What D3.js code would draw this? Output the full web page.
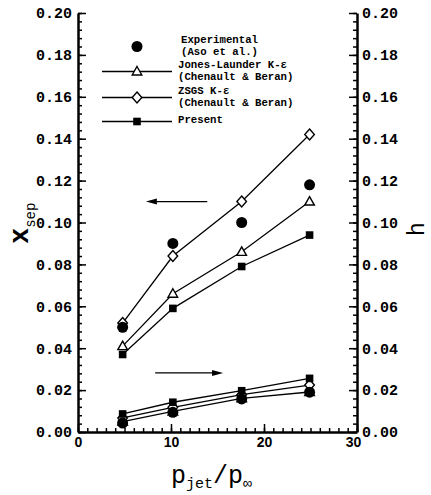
<!DOCTYPE html>
<html>
<head>
<meta charset="utf-8">
<script src="https://cdn.jsdelivr.net/npm/d3@7"></script>
<style>
  body { margin: 0; background: #fff; }
  text { fill: #000; }
</style>
</head>
<body>
<div id="chart"></div>
<script>
// pressure ratio of the four cases
const pjet = [4.8, 10.2, 17.6, 24.9];

// separation distance (left axis)
const xsepExp = [0.050, 0.090, 0.100, 0.118];
const xsepJL = [0.041, 0.066, 0.086, 0.110];
const xsepZSGS = [0.052, 0.084, 0.110, 0.142];
const xsepPresent = [0.037, 0.059, 0.079, 0.094];

// h (right axis)
const hExp = [0.0043, 0.0094, 0.0158, 0.0190];
const hJL = [0.0050, 0.0098, 0.0161, 0.0191];
const hZSGS = [0.0067, 0.0118, 0.0178, 0.0224];
const hPresent = [0.0086, 0.0142, 0.0197, 0.0256];

const xTicks = [0, 10, 20, 30];
const yTicks = d3.range(0, 0.2001, 0.02);

const legendItems = [
  { marker: "circle", line: false, text: ["Experimental", "(Aso et al.)"] },
  { marker: "triangle", line: true, text: ["Jones-Launder K-\u03b5", "(Chenault & Beran)"] },
  { marker: "diamond", line: true, text: ["ZSGS K-\u03b5", "(Chenault & Beran)"] },
  { marker: "square", line: true, text: ["Present"] }
];

const w = 431;
const h = 495;
const margin = { top: 13, bottom: 63, left: 78, right: 74 };
const mono = "'Liberation Mono', 'Courier New', monospace";

const svg = d3.select("#chart")
  .append("svg")
  .attr("width", w)
  .attr("height", h)
  .attr("viewBox", [0, 0, w, h]);

const x = d3.scaleLinear()
  .domain([0, 30])
  .range([margin.left, w - margin.right]);

const y = d3.scaleLinear()
  .domain([0, 0.2])
  .range([h - margin.bottom, margin.top]);

function marker(g, type, cx, cy) {
  if (type == "circle") {
    g.append("circle").attr("cx", cx).attr("cy", cy).attr("r", 5.5).attr("fill", "#000");
  } else if (type == "square") {
    g.append("rect").attr("x", cx - 3.8).attr("y", cy - 3.8).attr("width", 7.6).attr("height", 7.6).attr("fill", "#000");
  } else if (type == "triangle") {
    g.append("path")
      .attr("d", `M${cx},${cy - 5} L${cx + 4.8},${cy + 3.5} L${cx - 4.8},${cy + 3.5} Z`)
      .attr("fill", "#fff").attr("stroke", "#000").attr("stroke-width", 1.4);
  } else if (type == "diamond") {
    g.append("path")
      .attr("d", `M${cx},${cy - 5.5} L${cx + 4.8},${cy} L${cx},${cy + 5.5} L${cx - 4.8},${cy} Z`)
      .attr("fill", "#fff").attr("stroke", "#000").attr("stroke-width", 1.4);
  }
}

//series
const series = [
  { vals: xsepJL, type: "triangle", line: true },
  { vals: xsepZSGS, type: "diamond", line: true },
  { vals: xsepPresent, type: "square", line: true },
  { vals: xsepExp, type: "circle", line: false },
  { vals: hJL, type: "triangle", line: true },
  { vals: hZSGS, type: "diamond", line: true },
  { vals: hPresent, type: "square", line: true },
  { vals: hExp, type: "circle", line: false }
];

const line = d3.line()
  .x((d, i) => x(pjet[i]))
  .y(d => y(d));

const plot = svg.append("g");

series.filter(s => s.line).forEach(s => {
  plot.append("path")
    .attr("d", line(s.vals))
    .attr("fill", "none")
    .attr("stroke", "#000")
    .attr("stroke-width", 1.3);
});

series.forEach(s => {
  s.vals.forEach((v, i) => marker(plot, s.type, x(pjet[i]), y(v)));
});

// arrows pointing to the axis each group belongs to
function arrow(x1, x2, yy) {
  const g = svg.append("g");
  const dir = Math.sign(x2 - x1);
  g.append("line")
    .attr("x1", x(x1)).attr("x2", x(x2) - dir * 9)
    .attr("y1", y(yy)).attr("y2", y(yy))
    .attr("stroke", "#000").attr("stroke-width", 1.3);
  g.append("path")
    .attr("d", `M${x(x2)},${y(yy)} L${x(x2) - dir * 11},${y(yy) - 3} L${x(x2) - dir * 11},${y(yy) + 3} Z`)
    .attr("fill", "#000");
}
arrow(13.9, 7.3, 0.11);
arrow(8.3, 15.6, 0.0282);

//axes

function minorLeft(g) {
  g.attr("transform", `translate(${margin.left}, 0)`)
    .call(d3.axisLeft(y).tickValues(d3.range(0, 0.2001, 0.004)).tickSize(-4).tickFormat(""))
    .call(g => g.select(".domain").remove())
    .selectAll("line").attr("stroke-width", 1.3);
}

function minorRight(g) {
  g.attr("transform", `translate(${w - margin.right}, 0)`)
    .call(d3.axisRight(y).tickValues(d3.range(0, 0.2001, 0.004)).tickSize(-4).tickFormat(""))
    .call(g => g.select(".domain").remove())
    .selectAll("line").attr("stroke-width", 1.3);
}

function minorBottom(g) {
  g.attr("transform", `translate(0, ${h - margin.bottom})`)
    .call(d3.axisBottom(x).tickValues(d3.range(0, 31, 1)).tickSize(-4).tickFormat(""))
    .call(g => g.select(".domain").remove())
    .selectAll("line").attr("stroke-width", 1.3);
}

function yAxis(g) {
  g.attr("transform", `translate(${margin.left}, 0)`)
    .call(d3.axisLeft(y).tickValues(yTicks).tickSizeInner(-8).tickSizeOuter(0).tickPadding(6).tickFormat(d3.format(".2f")))
    .attr("font-family", mono)
    .attr("font-size", "15px")
    .attr("font-weight", "bold");
}

function y2Axis(g) {
  g.attr("transform", `translate(${w - margin.right}, 0)`)
    .call(d3.axisRight(y).tickValues(yTicks).tickSizeInner(-8).tickSizeOuter(0).tickPadding(5).tickFormat(d3.format(".2f")))
    .attr("font-family", mono)
    .attr("font-size", "15px")
    .attr("font-weight", "bold");
}

function xAxis(g) {
  g.attr("transform", `translate(0, ${h - margin.bottom})`)
    .call(d3.axisBottom(x).tickValues(xTicks).tickSizeInner(-8).tickSizeOuter(0).tickPadding(5))
    .attr("font-family", "'Liberation Sans', Arial, sans-serif")
    .attr("font-size", "14px")
    .attr("font-weight", "bold");
  // last label sits slightly left, under the corner
  g.selectAll(".tick text").filter(d => d == 30).attr("dx", -4);
}

svg.append("g").call(minorLeft);
svg.append("g").call(minorRight);
svg.append("g").call(minorBottom);
svg.append("g").call(yAxis);
svg.append("g").call(y2Axis);
svg.append("g").call(xAxis);

svg.selectAll(".tick line").attr("stroke-width", 1.5);
svg.selectAll(".domain").attr("stroke-width", 2.5);

// axis titles
svg.append("text")
  .attr("transform", "translate(28, 244) rotate(-90)")
  .attr("font-family", mono)
  .attr("font-size", "27px")
  .attr("font-weight", "bold")
  .call(t => {
    t.append("tspan").text("x");
    t.append("tspan").attr("font-size", "14px").attr("font-weight", "normal").attr("dy", 7).text("sep");
  });

svg.append("text")
  .attr("transform", "translate(424, 236) rotate(-90)")
  .attr("font-family", mono)
  .attr("font-size", "23px")
  .text("h");

svg.append("text")
  .attr("x", 171)
  .attr("y", 483)
  .attr("font-family", mono)
  .attr("font-size", "25px")
  .call(t => {
    t.append("tspan").text("p");
    t.append("tspan").attr("font-size", "15px").attr("dy", 5).text("jet");
    t.append("tspan").attr("dy", -5).text("/p");
    t.append("tspan").attr("font-size", "15px").attr("dy", 5).text("\u221e");
  });

// legend
const legendY = [43, 68, 94, 123];
const legend = svg.append("g");
legendItems.forEach((d, i) => {
  const my = legendY[i] + (d.text.length > 1 ? 3.5 : -1.5);
  if (d.line) {
    legend.append("line")
      .attr("x1", 102).attr("x2", 172)
      .attr("y1", my).attr("y2", my)
      .attr("stroke", "#000").attr("stroke-width", 1.3);
  }
  marker(legend, d.marker, 137, my);
  d.text.forEach((s, j) => {
    legend.append("text")
      .attr("x", i == 0 ? 181 : 178)
      .attr("y", legendY[i] + j * 11.5)
      .attr("font-family", mono)
      .attr("font-size", "10.7px")
      .attr("font-weight", "bold")
      .text(s);
  });
});

svg.node();
</script>
</body>
</html>
